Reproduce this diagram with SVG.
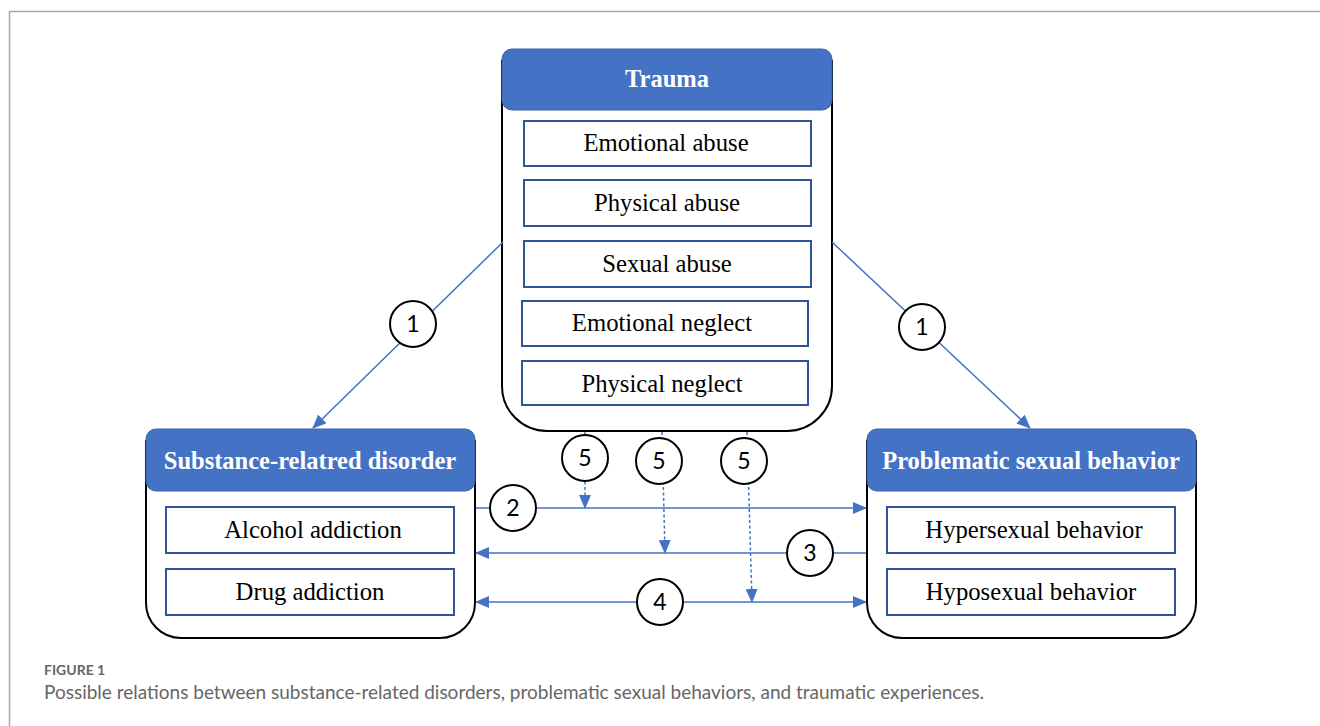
<svg xmlns="http://www.w3.org/2000/svg" width="1320" height="726" viewBox="0 0 1320 726">
<style>
.body{fill:#fff;stroke:#000;stroke-width:2}
.head{fill:#4472C4;stroke:#3A62A8;stroke-width:1}
.ht{font-family:"Liberation Serif",serif;font-weight:bold;font-size:24.5px;fill:#fff;text-anchor:middle}
.ib{fill:#fff;stroke:#2F5597;stroke-width:2}
.it{font-family:"Liberation Serif",serif;font-size:24.7px;fill:#000;text-anchor:middle}
.ln{stroke:#4472C4;stroke-width:1.5;fill:none}
.dl{stroke:#4472C4;stroke-width:1.5;fill:none;stroke-dasharray:3 2.5}
.cc{fill:#fff;stroke:#000;stroke-width:2}
.ct{font-family:Lato,"Open Sans",sans-serif;font-size:23px;fill:#000;text-anchor:middle}
</style>
<defs>
<marker id="ah" markerUnits="userSpaceOnUse" markerWidth="14" markerHeight="12" refX="13" refY="6" orient="auto-start-reverse">
<path d="M0,0 L14,6 L0,12 Z" fill="#4472C4"/>
</marker>
</defs>
<rect x="0" y="0" width="1320" height="726" fill="#fff"/>
<path d="M9.5,726 V11.5 H1320" fill="none" stroke="#A8A8A8" stroke-width="1.5"/>

<g id="trauma">
<path class="body" d="M502,60 V386 A45,45 0 0 0 547,431 H787 A45,45 0 0 0 832,386 V60"/>
<rect class="head" x="502" y="49" width="330" height="61" rx="10"/>
<text class="ht" x="667" y="87">Trauma</text>
<rect class="ib" x="524" y="121" width="287" height="45"/>
<text class="it" x="666" y="151">Emotional abuse</text>
<rect class="ib" x="524" y="180" width="287" height="46"/>
<text class="it" x="667" y="211">Physical abuse</text>
<rect class="ib" x="524" y="241" width="287" height="46"/>
<text class="it" x="667" y="272">Sexual abuse</text>
<rect class="ib" x="522" y="301" width="286" height="45"/>
<text class="it" x="662" y="331">Emotional neglect</text>
<rect class="ib" x="522" y="361" width="286" height="44"/>
<text class="it" x="662" y="392">Physical neglect</text>
</g>

<g id="substance">
<path class="body" d="M146,440 V603 A35,35 0 0 0 181,638 H440 A35,35 0 0 0 475,603 V440"/>
<rect class="head" x="146" y="429" width="329" height="62" rx="10"/>
<text class="ht" x="310" y="469">Substance-relatred disorder</text>
<rect class="ib" x="166" y="507" width="288" height="46"/>
<text class="it" x="313" y="538">Alcohol addiction</text>
<rect class="ib" x="166" y="569" width="288" height="46"/>
<text class="it" x="310" y="600">Drug addiction</text>
</g>

<g id="sexual">
<path class="body" d="M867,440 V603 A35,35 0 0 0 902,638 H1161 A35,35 0 0 0 1196,603 V440"/>
<rect class="head" x="867" y="429" width="329" height="62" rx="10"/>
<text class="ht" x="1031" y="469">Problematic sexual behavior</text>
<rect class="ib" x="887" y="507" width="288" height="46"/>
<text class="it" x="1034" y="538">Hypersexual behavior</text>
<rect class="ib" x="887" y="569" width="288" height="46"/>
<text class="it" x="1031" y="600">Hyposexual behavior</text>
</g>

<g id="connectors">
<line class="ln" x1="503" y1="242" x2="313" y2="428" marker-end="url(#ah)"/>
<line class="ln" x1="832" y1="242" x2="1030" y2="428" marker-end="url(#ah)"/>
<line class="ln" x1="476" y1="508" x2="866" y2="508" marker-end="url(#ah)"/>
<line class="ln" x1="866" y1="553" x2="476" y2="553" marker-end="url(#ah)"/>
<line class="ln" x1="476" y1="602" x2="866" y2="602" marker-start="url(#ah)" marker-end="url(#ah)"/>
<line class="dl" x1="585" y1="432" x2="585" y2="508" marker-end="url(#ah)"/>
<line class="dl" x1="662" y1="432" x2="665" y2="553" marker-end="url(#ah)"/>
<line class="dl" x1="747" y1="432" x2="752" y2="602" marker-end="url(#ah)"/>
<circle class="cc" cx="413" cy="324" r="23"/><text class="ct" x="413" y="332">1</text>
<circle class="cc" cx="922" cy="327" r="23"/><text class="ct" x="922" y="335">1</text>
<circle class="cc" cx="513" cy="508" r="23"/><text class="ct" x="513" y="516">2</text>
<circle class="cc" cx="810" cy="553" r="23"/><text class="ct" x="810" y="561">3</text>
<circle class="cc" cx="660" cy="602" r="23"/><text class="ct" x="660" y="610">4</text>
<circle class="cc" cx="585" cy="458" r="23"/><text class="ct" x="585" y="466">5</text>
<circle class="cc" cx="659" cy="461" r="23"/><text class="ct" x="659" y="469">5</text>
<circle class="cc" cx="744" cy="461" r="23"/><text class="ct" x="744" y="469">5</text>
</g>

<text x="44" y="675" font-family="Lato,'Open Sans',sans-serif" font-size="14" font-weight="bold" fill="#666">FIGURE 1</text>
<text x="44" y="699" font-family="Lato,'Open Sans',sans-serif" font-size="19" fill="#666">Possible relations between substance-related disorders, problematic sexual behaviors, and traumatic experiences.</text>
</svg>
